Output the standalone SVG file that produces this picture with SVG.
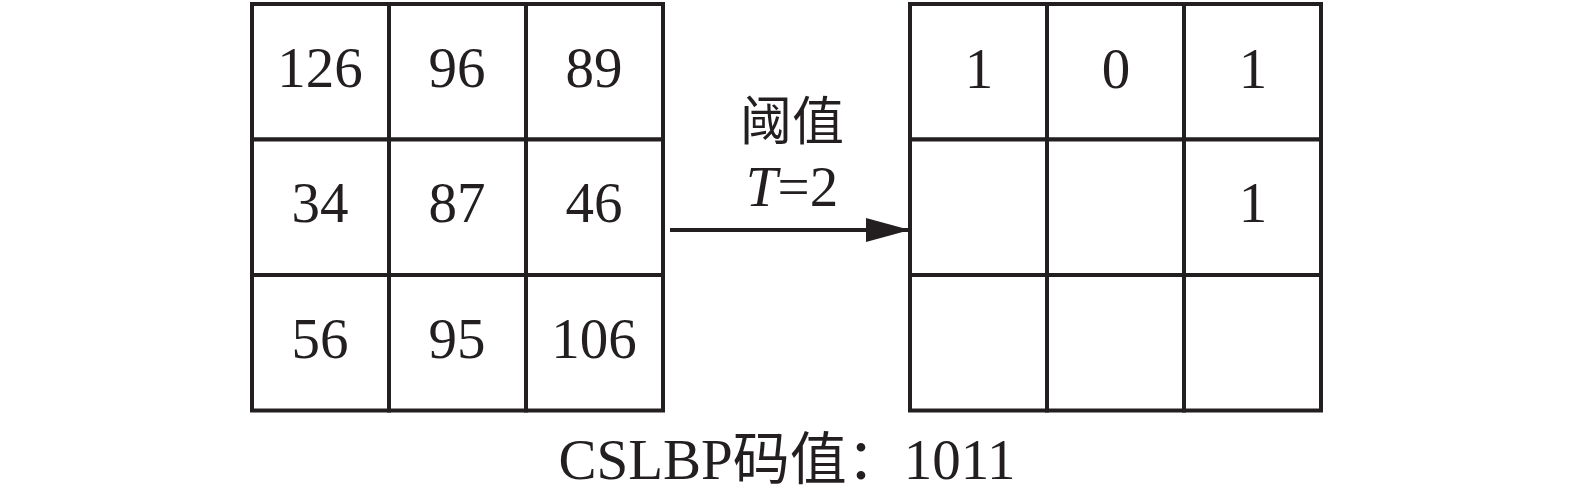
<svg xmlns="http://www.w3.org/2000/svg" width="1575" height="496" viewBox="0 0 1575 496">
<style>
.cell{fill:#fff;stroke:#231f20;stroke-width:4}
.t{font-family:"Liberation Serif","Noto Sans CJK SC",serif;font-size:57px;fill:#231f20;text-anchor:middle}
.c{font-family:"Noto Sans CJK SC","Liberation Serif",sans-serif;font-size:52px;fill:#231f20;text-anchor:middle}
</style>
<defs>
<marker id="ah" markerWidth="44" markerHeight="24" refX="44" refY="12" orient="auto" markerUnits="userSpaceOnUse">
<polygon points="0,0 44,12 0,24" fill="#231f20"/>
</marker>
</defs>
<rect width="1575" height="496" fill="#fff"/>
<g id="grid-left">
<rect class="cell" x="252" y="4" width="137" height="135.5"/>
<rect class="cell" x="389" y="4" width="137" height="135.5"/>
<rect class="cell" x="526" y="4" width="137" height="135.5"/>
<rect class="cell" x="252" y="139.5" width="137" height="135.5"/>
<rect class="cell" x="389" y="139.5" width="137" height="135.5"/>
<rect class="cell" x="526" y="139.5" width="137" height="135.5"/>
<rect class="cell" x="252" y="275" width="137" height="135.5"/>
<rect class="cell" x="389" y="275" width="137" height="135.5"/>
<rect class="cell" x="526" y="275" width="137" height="135.5"/>
<text class="t" x="320" y="87">126</text>
<text class="t" x="457" y="87">96</text>
<text class="t" x="594" y="87">89</text>
<text class="t" x="320" y="222">34</text>
<text class="t" x="457" y="222">87</text>
<text class="t" x="594" y="222">46</text>
<text class="t" x="320" y="358">56</text>
<text class="t" x="457" y="358">95</text>
<text class="t" x="594" y="358">106</text>
</g>
<g id="grid-right">
<rect class="cell" x="910" y="4" width="137" height="135.5"/>
<rect class="cell" x="1047" y="4" width="137" height="135.5"/>
<rect class="cell" x="1184" y="4" width="137" height="135.5"/>
<rect class="cell" x="910" y="139.5" width="137" height="135.5"/>
<rect class="cell" x="1047" y="139.5" width="137" height="135.5"/>
<rect class="cell" x="1184" y="139.5" width="137" height="135.5"/>
<rect class="cell" x="910" y="275" width="137" height="135.5"/>
<rect class="cell" x="1047" y="275" width="137" height="135.5"/>
<rect class="cell" x="1184" y="275" width="137" height="135.5"/>
<text class="t" x="979" y="88">1</text>
<text class="t" x="1116" y="88">0</text>
<text class="t" x="1253" y="88">1</text>
<text class="t" x="1253" y="222">1</text>
</g>
<g id="connectors">
<line x1="670" y1="230" x2="910" y2="230" stroke="#231f20" stroke-width="4" marker-end="url(#ah)"/>
</g>
<g id="label-threshold">
<text class="c" x="792" y="140">阈值</text>
<text class="t" x="792" y="206"><tspan font-style="italic">T</tspan>=2</text>
</g>
<g id="caption">
<text class="t" x="787" y="479">CSLBP码值：1011</text>
</g>
</svg>
